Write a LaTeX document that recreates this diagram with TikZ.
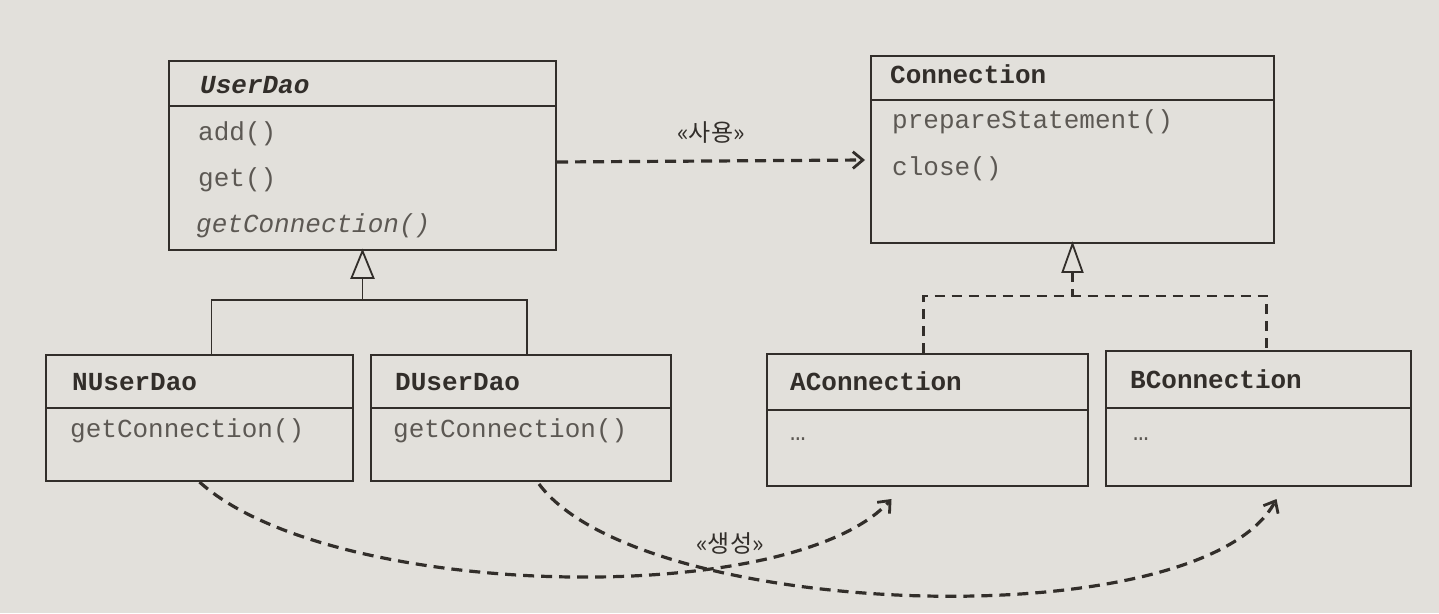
\documentclass[tikz,border=0pt]{standalone}
\usepackage{fontspec}
\setmonofont{Liberation Mono}
\newfontfamily\kofont{Noto Sans CJK KR}
\usetikzlibrary{arrows.meta,calc,positioning}
\definecolor{paper}{RGB}{226,224,219}
\definecolor{ink}{RGB}{50,46,42}
\definecolor{soft}{RGB}{92,88,83}
\tikzset{
  cls/.style={draw=ink,line width=2pt,anchor=north west,inner sep=0pt},
  clsname/.style={anchor=base west,inner sep=0pt,text=ink,font=\fontsize{26}{28}\selectfont\ttfamily\bfseries},
  meth/.style={anchor=base west,inner sep=0pt,text=soft,font=\fontsize{26}{28}\selectfont\ttfamily},
  sep/.style={draw=ink,line width=2pt},
  gen/.style={draw=ink,line width=1.8pt},
  hollow/.style={draw=ink,line width=1.8pt,fill=paper,line join=miter},
  real/.style={draw=ink,line width=2.2pt,dash pattern=on 10pt off 7pt},
  dep/.style={draw=ink,line width=3.2pt,dash pattern=on 11pt off 7pt,
    -{Straight Barb[angle=80:13pt,line width=2.8pt]}},
  stereo/.style={inner sep=0pt,text=ink,font=\fontsize{24}{26}\selectfont\kofont}
}
\begin{document}
\begin{tikzpicture}[x=1pt,y=-1pt]
\fill[paper] (0,0) rectangle (1439,613);
\useasboundingbox (0,0) rectangle (1439,613);

% classes
\node[cls,minimum width=387pt,minimum height=189pt] (userdao) at (168,60) {};
\node[cls,minimum width=403pt,minimum height=187pt] (connection) at (870,55) {};
\node[cls,minimum width=307pt,minimum height=126pt] (nuserdao) at (45,354) {};
\node[cls,minimum width=300pt,minimum height=126pt] (duserdao) at (370,354) {};
\node[cls,minimum width=321pt,minimum height=132pt] (aconn) at (766,353) {};
\node[cls,minimum width=305pt,minimum height=135pt] (bconn) at (1105,350) {};

\draw[sep] ($(userdao.north west)+(0,46)$) -- ($(userdao.north east)+(0,46)$);
\draw[sep] ($(connection.north west)+(0,45)$) -- ($(connection.north east)+(0,45)$);
\draw[sep] ($(nuserdao.north west)+(0,54)$) -- ($(nuserdao.north east)+(0,54)$);
\draw[sep] ($(duserdao.north west)+(0,54)$) -- ($(duserdao.north east)+(0,54)$);
\draw[sep] ($(aconn.north west)+(0,57)$) -- ($(aconn.north east)+(0,57)$);
\draw[sep] ($(bconn.north west)+(0,58)$) -- ($(bconn.north east)+(0,58)$);

\node[clsname,font=\fontsize{26}{28}\selectfont\ttfamily\bfseries\itshape] (udname) at (200,93) {UserDao};
\node[meth] (udadd) at (198,140) {add()};
\node[meth] (udget) at (198,186) {get()};
\node[meth,font=\fontsize{26}{28}\selectfont\ttfamily\itshape] (udconn) at (196,232) {getConnection()};

\node[clsname] (cname) at (890,83) {Connection};
\node[meth] (cprep) at (892,128) {prepareStatement()};
\node[meth] (cclose) at (892,175) {close()};

\node[clsname] (nname) at (72,390) {NUserDao};
\node[meth] (nconn) at (70,437) {getConnection()};
\node[clsname] (dname) at (395,390) {DUserDao};
\node[meth] (dconn) at (393,437) {getConnection()};

\node[clsname] (aname) at (790,390) {AConnection};
\node[meth] (adots) at (790,440) {…};
\node[clsname] (bname) at (1130,388) {BConnection};
\node[meth] (bdots) at (1133,440) {…};

% generalization
\draw[hollow] (userdao.south) -- ++(-11,27) -- ++(22,0) -- cycle;
\draw[gen] ($(userdao.south)+(0,27)$) -- ++(0,22) coordinate (ujoin);
\draw[gen] ($(nuserdao.north)+(12,0)$) |- (ujoin) -| ($(duserdao.north)+(6,0)$);

% realization
\draw[hollow] (connection.south) -- ++(-10,28) -- ++(20,0) -- cycle;
\draw[real] ($(connection.south)+(0,28)$) -- ++(0,24) coordinate (cjoin);
\draw[real] ($(aconn.north)+(-4,0)$) |- (cjoin) -| ($(bconn.north)+(8,0)$);

% dependencies
\draw[dep] ($(userdao.north east)+(0,102)$) -- node[stereo,above=16pt] (uselbl) {«사용»}
  ($(connection.north west)+(-5,105)$);
\draw[dep] (nuserdao.south) .. controls (330,600) and (790,610) .. ($(aconn.south)+(-36,12)$);
\draw[dep] ($(duserdao.south)+(18,2)$) .. controls (640,620) and (1200,640) .. ($(bconn.south)+(18,12)$);
\node[stereo] (newlbl) at (730,543) {«생성»};
\end{tikzpicture}
\end{document}
